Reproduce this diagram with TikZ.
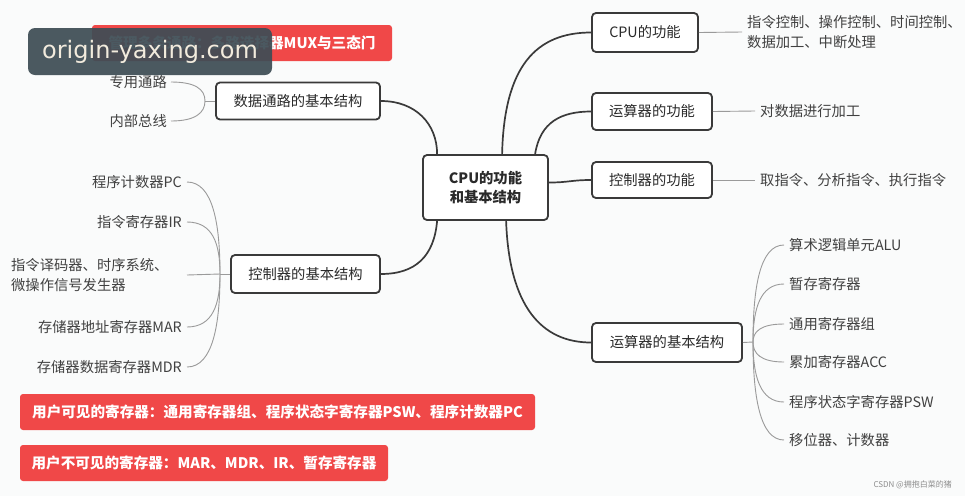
\documentclass[tikz,border=0pt]{standalone}
\usepackage{fontspec}
\newfontfamily\cjk{Noto Sans CJK SC}
\newfontfamily\wmfont{DejaVu Sans}
\usetikzlibrary{calc}
\definecolor{bg}{HTML}{FAFBFB}
\definecolor{boxline}{HTML}{3A3A3A}
\definecolor{txt}{HTML}{2A2A2A}
\definecolor{leaftxt}{HTML}{404040}
\definecolor{thinc}{HTML}{9A9A9A}
\definecolor{redbox}{HTML}{F04848}
\definecolor{wm}{HTML}{3E4D55}
\definecolor{wmtxt}{HTML}{F2EBDD}
\tikzset{
  mbox/.style={draw=boxline, line width=1.8pt, rounded corners=4pt, fill=white,
    font=\cjk\fontsize{14.3}{17}\selectfont, text=txt, inner sep=0pt, align=center},
  leafnode/.style={font=\cjk\fontsize{14.3}{20}\selectfont, text=leaftxt, inner sep=0pt, align=left},
  thickc/.style={draw=boxline, line width=1.7pt},
  thinc/.style={draw=thinc, line width=0.9pt},
  redb/.style={fill=redbox, rounded corners=3pt, text=white,
    font=\cjk\bfseries\fontsize{14.6}{17}\selectfont, inner sep=0pt, minimum height=36pt}
}
\begin{document}
\begin{tikzpicture}[x=1pt,y=-1pt]
\fill[bg] (0,0) rectangle (965,496);
\useasboundingbox (0,0) rectangle (965,496);

% main boxes
\node[mbox, minimum width=125pt, minimum height=65pt, font=\cjk\bfseries\fontsize{14.3}{19}\selectfont] (ctr) at (485.5,187.5) {CPU的功能\\和基本结构};
\node[mbox, minimum width=164pt, minimum height=37pt] (dp) at (298,101) {数据通路的基本结构};
\node[mbox, minimum width=149pt, minimum height=38pt] (cb) at (305.5,274) {控制器的基本结构};
\node[mbox, minimum width=106pt, minimum height=39pt] (cpuf) at (645,32.5) {CPU的功能};
\node[mbox, minimum width=120pt, minimum height=37pt] (aluf) at (652,111.5) {运算器的功能};
\node[mbox, minimum width=120pt, minimum height=36pt] (ctlf) at (652,180) {控制器的功能};
\node[mbox, minimum width=150pt, minimum height=39pt] (alus) at (667,342.5) {运算器的基本结构};

% thick connectors
\draw[thickc] (dp.east) .. controls +(35,0) and +(0,-30) .. ([xshift=15pt]ctr.north west);
\draw[thickc] ([xshift=80pt]ctr.north west) .. controls +(2,-88) and +(-55,0) .. (cpuf.west);
\draw[thickc] ([xshift=113pt]ctr.north west) .. controls +(5,-32) and +(-30,0) .. (aluf.west);
\draw[thickc] ([yshift=5pt]ctr.east) .. controls +(20,0) and +(-20,0) .. (ctlf.west);
\draw[thickc] ([xshift=15pt]ctr.south west) .. controls +(-3,35) and +(35,0) .. (cb.east);
\draw[thickc] ([xshift=84pt]ctr.south west) .. controls +(3,85) and +(-50,0) .. (alus.west);

% data path leaves
\node[leafnode, anchor=east] (zy) at (167,82) {专用通路};
\node[leafnode, anchor=east] (nb) at (167,121) {内部总线};
\coordinate (jd) at (205,101);
\draw[thinc] (dp.west) -- (jd);
\draw[thinc] ([xshift=4pt]zy.east) .. controls +(24,0) and +(0,-12) .. (jd);
\draw[thinc] ([xshift=4pt]nb.east) .. controls +(24,0) and +(0,12) .. (jd);

% control structure leaves
\node[leafnode, anchor=east] (pc) at (182,182) {程序计数器PC};
\node[leafnode, anchor=east] (ir) at (182,222) {指令寄存器IR};
\node[leafnode, anchor=west] (dec) at (11,275) {指令译码器、时序系统、\\微操作信号发生器};
\node[leafnode, anchor=east] (mar) at (182,327) {存储器地址寄存器MAR};
\node[leafnode, anchor=east] (mdr) at (182,367) {存储器数据寄存器MDR};
\coordinate (jc) at (220,274);
\draw[thinc] (cb.west) -- (jc);
\draw[thinc] ([xshift=5pt]pc.east) .. controls +(26,0) and +(0,-50) .. (jc);
\draw[thinc] ([xshift=5pt]ir.east) .. controls +(26,0) and +(0,-30) .. (jc);
\draw[thinc] ($(dec.east -| pc.east)+(5,0)$) -- (jc);
\draw[thinc] ([xshift=5pt]mar.east) .. controls +(26,0) and +(0,30) .. (jc);
\draw[thinc] ([xshift=5pt]mdr.east) .. controls +(26,0) and +(0,50) .. (jc);

% right simple leaves
\node[leafnode, anchor=west] (cpul) at (747,32) {指令控制、操作控制、时间控制、\\数据加工、中断处理};
\node[leafnode, anchor=west] (alul) at (760,111) {对数据进行加工};
\node[leafnode, anchor=west] (ctll) at (760,180) {取指令、分析指令、执行指令};
\draw[thinc] (cpuf.east) -- ([xshift=-5pt]cpul.west);
\draw[thinc] (aluf.east) -- ([xshift=-5pt]alul.west);
\draw[thinc] (ctlf.east) -- ([xshift=-5pt]ctll.west);

% ALU structure leaves
\node[leafnode, anchor=west] (l1) at (789,245) {算术逻辑单元ALU};
\node[leafnode, anchor=west] (l2) at (789,284) {暂存寄存器};
\node[leafnode, anchor=west] (l3) at (789,324) {通用寄存器组};
\node[leafnode, anchor=west] (l4) at (789,362) {累加寄存器ACC};
\node[leafnode, anchor=west] (l5) at (789,402) {程序状态字寄存器PSW};
\node[leafnode, anchor=west] (l6) at (789,440) {移位器、计数器};
\coordinate (jr) at (753,342);
\draw[thinc] (alus.east) -- (jr);
\draw[thinc] (jr) .. controls +(0,-55) and +(-24,0) .. ([xshift=-5pt]l1.west);
\draw[thinc] (jr) .. controls +(0,-33) and +(-24,0) .. ([xshift=-5pt]l2.west);
\draw[thinc] (jr) .. controls +(0,-10) and +(-24,0) .. ([xshift=-5pt]l3.west);
\draw[thinc] (jr) .. controls +(0,11) and +(-24,0) .. ([xshift=-5pt]l4.west);
\draw[thinc] (jr) .. controls +(0,34) and +(-24,0) .. ([xshift=-5pt]l5.west);
\draw[thinc] (jr) .. controls +(0,55) and +(-24,0) .. ([xshift=-5pt]l6.west);

% red note boxes
\node[redb, minimum width=300pt] (note1) at (242,43) {管理多条通路：多路选择器MUX与三态门};
\node[redb, minimum width=515pt] (note2) at (277.5,412) {用户可见的寄存器：通用寄存器组、程序状态字寄存器PSW、程序计数器PC};
\node[redb, minimum width=368pt] (note3) at (204,463) {用户不可见的寄存器：MAR、MDR、IR、暂存寄存器};

% watermark
\node[fill=wm, fill opacity=0.93, text opacity=1, rounded corners=7pt, text=wmtxt,
  font=\wmfont\fontsize{24}{28}\selectfont, minimum width=244pt, minimum height=47pt, inner sep=0pt] (wmk) at (150,51.5) {origin-yaxing.com};
\node[font=\cjk\fontsize{8}{10}\selectfont, text=black!45, anchor=east, inner sep=0pt] (csdn) at (952,485) {CSDN @拥抱白菜的猪};
\end{tikzpicture}
\end{document}
